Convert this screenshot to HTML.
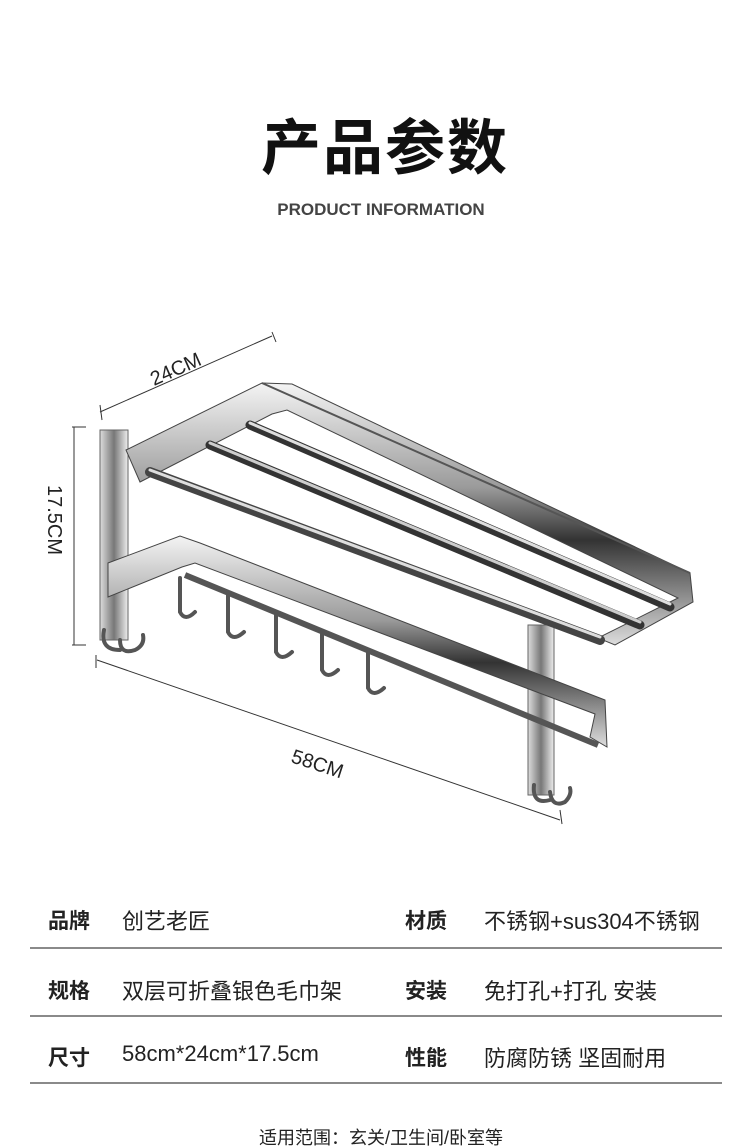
<!DOCTYPE html>
<html><head><meta charset="utf-8"><style>
body{margin:0;background:#fff;}
.wrap{position:relative;width:750px;height:1146px;overflow:hidden;background:#fff;font-family:"Liberation Sans","Noto Sans CJK SC",sans-serif;color:#222;}
.t{position:absolute;white-space:nowrap;}
.line{position:absolute;left:30px;width:692px;height:2px;background:#8a8a8a;}
.v{font-size:22px;}
.k{font-size:21px;font-weight:bold;}
</style></head><body><div class="wrap">
<div class="t" style="left:10px;width:750px;text-align:center;top:100px;font-size:60px;font-weight:bold;color:#111;letter-spacing:2px;">产品参数</div>
<div class="t" style="left:0;width:762px;text-align:center;top:200px;font-size:17px;font-weight:bold;color:#444;">PRODUCT INFORMATION</div>

<svg style="position:absolute;left:0;top:0" width="750" height="880">
<defs>
<linearGradient id="m" x1="0" y1="0" x2="0" y2="1"><stop offset="0" stop-color="#f4f4f4"/><stop offset=".4" stop-color="#9a9a9a"/><stop offset=".6" stop-color="#333"/><stop offset="1" stop-color="#ddd"/></linearGradient>
<linearGradient id="v" x1="0" y1="0" x2="1" y2="0"><stop offset="0" stop-color="#ddd"/><stop offset=".5" stop-color="#777"/><stop offset="1" stop-color="#eee"/></linearGradient>
</defs>
<g stroke="#333" stroke-width="1" fill="none">
<path d="M100 412 L272 336 M272 332 L276 342 M100 405 L102 420"/>
<path d="M74 427 L74 645 M72 427 L86 427 M72 645 L86 645"/>
<path d="M97 660 L560 820 M96 655 L96 668 M560 810 L562 824"/>
</g>
<text x="0" y="0" font-size="20" fill="#222" font-family="Liberation Sans" transform="translate(154 386) rotate(-24)">24CM</text>
<text x="0" y="0" font-size="20" fill="#222" font-family="Liberation Sans" transform="translate(48 485) rotate(90)">17.5CM</text>
<text x="0" y="0" font-size="20" fill="#222" font-family="Liberation Sans" transform="translate(290 762) rotate(18)">58CM</text>
<rect x="100" y="430" width="28" height="210" fill="url(#v)" stroke="#666"/>
<rect x="528" y="625" width="26" height="170" fill="url(#v)" stroke="#666"/>
<path d="M126 450 L262 383 L292 384 L690 573 L693 602 L615 645 L598 638 L678 598 L287 410 L272 414 L140 482 Z" fill="url(#m)" stroke="#444"/>
<path d="M262 383 L690 573" stroke="#555" stroke-width="2"/>
<g stroke-linecap="round">
<line x1="150" y1="472" x2="600" y2="640" stroke="#444" stroke-width="10"/>
<line x1="150" y1="470" x2="600" y2="637" stroke="#ddd" stroke-width="3"/>
<line x1="210" y1="445" x2="640" y2="625" stroke="#333" stroke-width="9"/>
<line x1="210" y1="443" x2="640" y2="622" stroke="#ccc" stroke-width="3"/>
<line x1="250" y1="425" x2="670" y2="607" stroke="#333" stroke-width="9"/>
<line x1="250" y1="423" x2="670" y2="604" stroke="#ddd" stroke-width="3"/>
</g>
<path d="M108 563 L180 536 L200 543 L605 700 L607 747 L590 737 L595 714 L195 563 L182 567 L108 597 Z" fill="url(#m)" stroke="#444"/>
<line x1="185" y1="575" x2="598" y2="745" stroke="#555" stroke-width="6"/>
<g fill="none" stroke="#555" stroke-width="4" stroke-linecap="round">
<path d="M180 578 L180 612 Q185 622 195 612"/>
<path d="M228 595 L228 632 Q233 642 244 632"/>
<path d="M276 615 L276 652 Q281 662 292 652"/>
<path d="M322 632 L322 670 Q327 680 338 670"/>
<path d="M368 650 L368 688 Q373 698 384 688"/>
<path d="M104 630 Q100 650 120 650 M120 640 Q120 655 135 650 Q145 645 143 635"/>
<path d="M534 785 Q532 805 550 800 M550 792 Q552 808 565 802 Q572 795 570 788"/>
</g>
</svg>

<div class="t k" style="left:48px;top:905px;">品牌</div>
<div class="t v" style="left:122px;top:904px;">创艺老匠</div>
<div class="t k" style="left:405px;top:905px;">材质</div>
<div class="t v" style="left:484px;top:904px;">不锈钢+sus304不锈钢</div>
<div class="line" style="top:947px"></div>
<div class="t k" style="left:48px;top:975px;">规格</div>
<div class="t v" style="left:122px;top:974px;">双层可折叠银色毛巾架</div>
<div class="t k" style="left:405px;top:975px;">安装</div>
<div class="t v" style="left:484px;top:974px;">免打孔+打孔 安装</div>
<div class="line" style="top:1015px"></div>
<div class="t k" style="left:48px;top:1042px;">尺寸</div>
<div class="t v" style="left:122px;top:1041px;">58cm*24cm*17.5cm</div>
<div class="t k" style="left:405px;top:1042px;">性能</div>
<div class="t v" style="left:484px;top:1041px;">防腐防锈 坚固耐用</div>
<div class="line" style="top:1082px"></div>
<div class="t" style="left:0;width:762px;text-align:center;top:1124px;font-size:18px;">适用范围：玄关/卫生间/卧室等</div>
</div></body></html>
